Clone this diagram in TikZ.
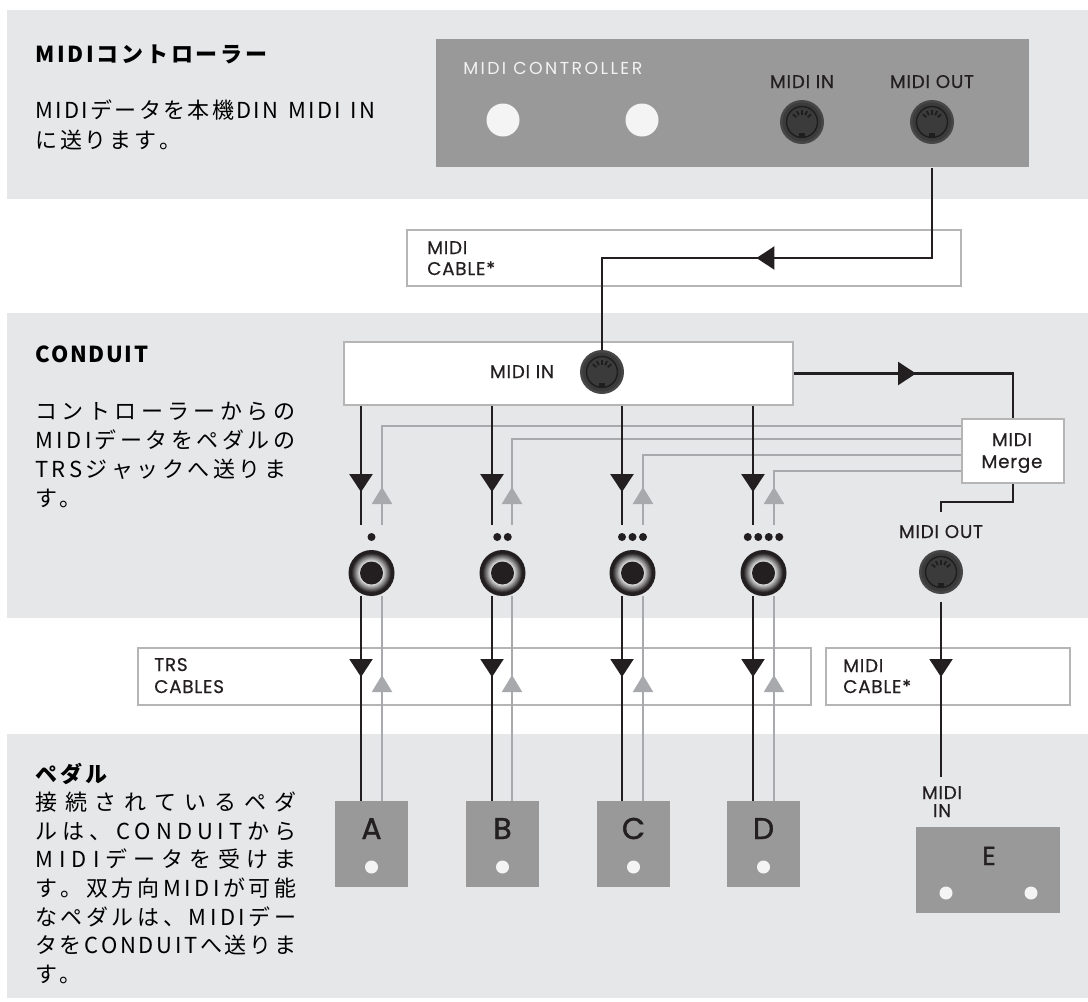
\documentclass[tikz,border=0pt]{standalone}
\usepackage{fontspec}
\setmainfont{Noto Sans CJK JP}
\newfontfamily\lab[LetterSpace=4,FakeBold=0.4]{Poppins}
\newfontfamily\labwide[LetterSpace=14]{Poppins}
\newfontfamily\labbig[FakeBold=1.2]{Poppins}
\usetikzlibrary{arrows.meta,decorations.markings,calc}
\newdimen\px \px=0.75pt
\def\p#1{\the\dimexpr #1\px\relax}
\definecolor{bandc}{HTML}{E6E7E8}
\definecolor{devc}{HTML}{999999}
\definecolor{ink}{HTML}{231F20}
\definecolor{gl}{HTML}{A7A9AC}
\definecolor{framec}{HTML}{B5B5B5}
\definecolor{knob}{HTML}{F4F4F4}
\definecolor{ctrltext}{HTML}{F2F2F2}
\definecolor{dinrim}{HTML}{474747}
\definecolor{dinbody}{HTML}{3B3B3B}
\definecolor{dinline}{HTML}{1E1E1E}
\definecolor{jackhi}{HTML}{E2E2E2}
\makeatletter
\def\spr#1{\spr@b#1\relax}
\def\spr@b#1{#1\spr@a}
\def\spr@a#1{\ifx#1\relax\else\hfil#1\expandafter\spr@a\fi}
\makeatother
\newcommand\jl[2]{\makebox[\p{#1}][s]{\spr{#2}}}
\newcommand\bodyf{\fontsize{16.5pt}{20pt}\selectfont}
\newcommand\headf{\fontsize{16.5pt}{20pt}\selectfont\bfseries}
\newcommand\labf{\lab\fontsize{13.8pt}{16pt}\selectfont}
\newcommand\dinjack[1]{%
  \fill[dinrim] (#1) circle[radius=\p{22}];
  \fill[dinbody] (#1) circle[radius=\p{19.5}];
  \draw[dinline, line width=\p{1.4}] (#1) circle[radius=\p{15.5}];
  \foreach \a in {40,65,90,115,140}
    \draw[dinline, line width=\p{1.8}] ($(#1)+(\a:\p{7.5})$) -- ($(#1)+(\a:\p{12})$);
  \fill[dinline] ($(#1)+(-\p{2.6},-\p{16})$) rectangle ($(#1)+(\p{2.6},-\p{11})$);
}
\newcommand\trsjack[1]{%
  \fill[ink] (#1) circle[radius=\p{23}];
  \foreach \i in {0,...,8} {
    \pgfmathsetmacro\rr{19.5-0.9*\i}
    \pgfmathtruncatemacro\cc{8+11*\i}
    \fill[jackhi!\cc!ink] (#1) circle[radius=\p{\rr}];
  }
  \fill[ink] (#1) circle[radius=\p{11.5}];
}
\tikzset{
  devbox/.style={fill=devc, draw=none, inner sep=0},
  wbox/.style={fill=white, draw=framec, line width=\p{2}, inner sep=0},
  cabbox/.style={fill=white, draw=framec, line width=\p{2}, inner sep=0},
  pedal/.style={fill=devc, draw=none, inner sep=0},
  lbl/.style={font=\labf, text=ink, inner sep=0},
  big/.style={font=\labbig\fontsize{22.5pt}{26pt}\selectfont, text=ink, inner sep=0},
  bigE/.style={font=\labbig\fontsize{19.5pt}{22pt}\selectfont, text=ink, inner sep=0},
  jt/.style={font=\bodyf, text=black, inner sep=0, anchor=base west},
  jh/.style={font=\headf, text=black, inner sep=0, anchor=base west},
  blk/.style={draw=ink, line width=\p{2.6}},
  blkthin/.style={draw=ink, line width=\p{2}},
  gry/.style={draw=gl, line width=\p{2.4}},
  grythin/.style={draw=gl, line width=\p{2}},
  tipB/.style={decoration={markings, mark=at position #1 with {\arrow{Triangle[width=\p{23},length=\p{18}]}}}, postaction={decorate}},
  tipG/.style={decoration={markings, mark=at position #1 with {\arrow{Triangle[width=\p{20},length=\p{17}]}}}, postaction={decorate}},
}
\begin{document}
\begin{tikzpicture}[x=0.75pt,y=-0.75pt]
\useasboundingbox (0,0) rectangle (1088,1001);
\fill[white] (0,0) rectangle (1088,1001);
% bands
\fill[bandc] (7,10) rectangle (1088,199);
\fill[bandc] (7,313) rectangle (1088,618);
\fill[bandc] (7,734) rectangle (1088,998);

% boxes
\node[devbox, anchor=north west, minimum width=\p{593}, minimum height=\p{128}] (ctrl) at (436,39) {};
\node[cabbox, anchor=north west, minimum width=\p{554}, minimum height=\p{56}] (cab1) at (406,229) {};
\node[wbox, anchor=north west, minimum width=\p{449}, minimum height=\p{63}] (cbox) at (343,341) {};
\node[wbox, anchor=north west, minimum width=\p{102}, minimum height=\p{64}] (merge) at (961,418) {};
\node[cabbox, anchor=north west, minimum width=\p{673}, minimum height=\p{57}] (cab2) at (137,647) {};
\node[cabbox, anchor=north west, minimum width=\p{244}, minimum height=\p{57}] (cab3) at (825,647) {};
\foreach \n/\x in {pA/371.5, pB/502.5, pC/633.5, pD/763.5}
  \node[pedal, anchor=north, minimum width=\p{73}, minimum height=\p{86}] (\n) at (\x,801) {};
\node[pedal, anchor=north west, minimum width=\p{144}, minimum height=\p{86}] (pE) at (916,827) {};

% coordinates
\coordinate (cin) at (802,122);
\coordinate (cout) at (932,122);
\coordinate (k2) at (602,258);
\coordinate (cdin) at (602,372);
\coordinate (mc) at (941,502);
\coordinate (mt) at (941,512);
\coordinate (mojack) at (941,572);
\coordinate (ein) at (941,777);
\coordinate (jA) at (371.5,573);
\coordinate (jB) at (502.5,573);
\coordinate (jC) at (632.5,573);
\coordinate (jD) at (763.5,573);

% grey return lines
\foreach \x/\y in {382/426, 512/439, 643/455, 774/471}
  \draw[gry, tipG=\p{38}] (\x,525) |- (merge.west |- 0,\y);
\foreach \x/\n in {382/pA, 512/pB, 643/pC, 774/pD}
  \draw[grythin, tipG=\p{126}] (\n.north -| \x,0) -- (\x,596);

% black lines
\draw[blk, tipB=\p{266}] (ctrl.south -| cout) |- (k2) -- (cdin);
\foreach \x in {361,492,622,753}
  \draw[blk, tipB=\p{86}] (cbox.south -| \x,0) -- (\x,525);
\foreach \x/\n in {361/pA, 492/pB, 622/pC, 753/pD}
  \draw[blkthin, tipB=\p{81}] (\x,596) -- (\n.north -| \x,0);
\draw[blk, tipB=\p{122}] (cbox.east) -| (merge.north);
\draw[blk] (merge.south) |- (mc) -- (mt);
\draw[blkthin, tipB=\p{75}] ($(mojack)+(0,30)$) -- (ein);

% jacks
\fill[knob] (503,120) circle[radius=\p{16.5}];
\fill[knob] (642,120) circle[radius=\p{16.5}];
\dinjack{cin}
\dinjack{cout}
\dinjack{cdin}
\dinjack{mojack}
\trsjack{jA}\trsjack{jB}\trsjack{jC}\trsjack{jD}

% dots
\fill[ink] (371.5,537) circle[radius=\p{4}];
\foreach \x in {497.25,507.75} \fill[ink] (\x,537) circle[radius=\p{4}];
\foreach \x in {622,632.5,643} \fill[ink] (\x,537) circle[radius=\p{4}];
\foreach \x in {747.75,758.25,768.75,779.25} \fill[ink] (\x,537) circle[radius=\p{4}];

% pedal letters & dots
\foreach \n/\x/\t in {pA/371.5/A, pB/502.5/B, pC/633.5/C, pD/763.5/D} {
  \node[big, anchor=base] (\n-l) at (\x,839) {\t};
  \fill[knob] (\x,867) circle[radius=\p{6.5}];
}
\node[bigE, anchor=base] (pE-l) at (989,865) {E};
\fill[knob] (946,893) circle[radius=\p{6.5}];
\fill[knob] (1031,893) circle[radius=\p{6.5}];

% labels
\node[inner sep=0, text=ctrltext, font=\labwide\fontsize{13pt}{16pt}\selectfont, anchor=base west] (ctrlname) at (463,74) {MIDI CONTROLLER};
\node[lbl, anchor=base] (ctrlinl) at (802,88) {MIDI IN};
\node[lbl, anchor=base] (ctrloutl) at (932,88) {MIDI OUT};
\node[lbl, anchor=base west] (cab1a) at (427,254) {MIDI};
\node[lbl, anchor=base west] (cab1b) at (427,275) {CABLE*};
\node[lbl, anchor=base] (cboxl) at (522,378) {MIDI IN};
\node[lbl, anchor=base] (mergea) at (1012,446) {MIDI};
\node[lbl, anchor=base] (mergeb) at (1012,468) {Merge};
\node[lbl, anchor=base] (mol) at (941,538) {MIDI OUT};
\node[lbl, anchor=base west] (cab2a) at (154,671) {TRS};
\node[lbl, anchor=base west] (cab2b) at (154,693) {CABLES};
\node[lbl, anchor=base west] (cab3a) at (843,672) {MIDI};
\node[lbl, anchor=base west] (cab3b) at (843,693) {CABLE*};
\node[lbl, anchor=base] (einl1) at (942,799) {MIDI};
\node[lbl, anchor=base] (einl2) at (942,817) {IN};

% left texts
\node[jh] (h1) at (35,62) {\jl{232}{MIDIコントローラー}};
\node[jt] (t1a) at (35,118) {\makebox[\p{340}][s]{\spr{MIDIデータを本機DIN}\hfil\ \hfil\spr{MIDI}\hfil\ \hfil\spr{IN}}};
\node[jt] (t1b) at (35,148) {\jl{146}{に送ります。}};

\node[jh] (h2) at (35,362) {\jl{113}{CONDUIT}};
\node[jt] (t2a) at (35,419) {\jl{260}{コントローラーからの}};
\node[jt] (t2b) at (35,448) {\jl{260}{MIDIデータをペダルの}};
\node[jt] (t2c) at (35,477) {\jl{251}{TRSジャックへ送りま}};
\node[jt] (t2d) at (35,506) {\jl{46}{す。}};

\node[jh] (h3) at (35,782) {\jl{72}{ペダル}};
\node[jt] (t3a) at (35,810) {\jl{261}{接続されているペダ}};
\node[jt] (t3b) at (35,839) {\jl{261}{ルは、CONDUITから}};
\node[jt] (t3c) at (35,867) {\jl{261}{MIDIデータを受けま}};
\node[jt] (t3d) at (35,896) {\jl{261}{す。双方向MIDIが可能}};
\node[jt] (t3e) at (35,925) {\jl{261}{なペダルは、MIDIデー}};
\node[jt] (t3f) at (35,953) {\jl{261}{タをCONDUITへ送りま}};
\node[jt] (t3g) at (35,982) {\jl{46}{す。}};
\end{tikzpicture}
\end{document}
